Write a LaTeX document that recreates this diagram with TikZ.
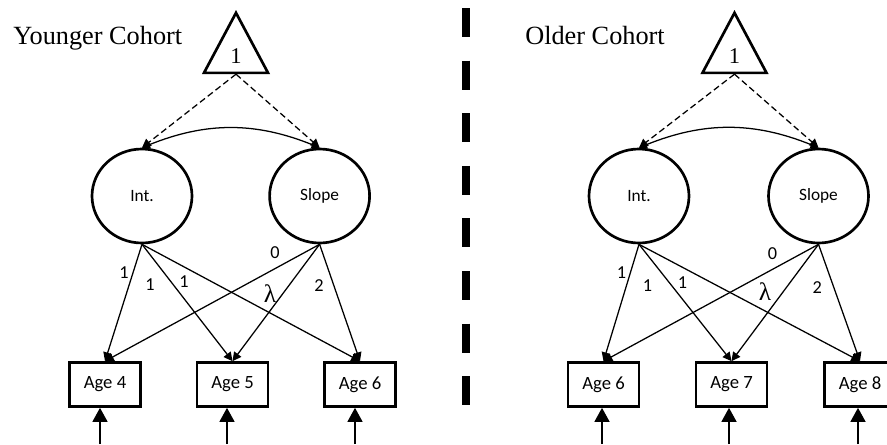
\documentclass[tikz,border=0pt]{standalone}
\usepackage{fontspec}
\setmainfont{Liberation Serif}
\setsansfont{Carlito}
\usetikzlibrary{shapes.geometric,arrows.meta}

\begin{document}
\begin{tikzpicture}[
  title/.style={anchor=base west, inner sep=0pt, font=\fontsize{18.7}{22}\selectfont},
  const/.style={isosceles triangle, isosceles triangle apex angle=56,
    isosceles triangle stretches, shape border rotate=90, draw,
    line width=1.9pt, minimum width=1.6cm, minimum height=1.5cm, inner sep=0pt},
  factor/.style={ellipse, draw, line width=1.9pt, minimum width=2.5cm,
    minimum height=2.35cm, font=\sffamily\fontsize{12.3}{14}\selectfont},
  measure/.style={rectangle, draw, line width=1.9pt, minimum width=1.775cm,
    minimum height=1.1cm, font=\sffamily\fontsize{13.3}{15}\selectfont},
  lbl/.style={inner sep=0pt, font=\sffamily\fontsize{13}{14}\selectfont},
  load/.style={-{Triangle[length=2.2mm,width=2.2mm]}, line width=0.9pt},
  meanpath/.style={load, dash pattern=on 4.5pt off 2.5pt},
  covpath/.style={{Triangle[length=2mm,width=2mm]}-{Triangle[length=2mm,width=2mm]}, line width=0.9pt},
  errarrow/.style={-{Triangle[length=3.5mm,width=3.75mm]}, line width=1pt}
]
  \clip (0.0, 0.0) rectangle (22.175, 11.1);

  % younger cohort
  \node (yTitle) [title] at (0.325, 10.0) {Younger Cohort};
  \node (yOne) [const, anchor=apex] at (5.9, 10.85) {};
  \node (yOneLbl) [font=\fontsize{16}{16}\selectfont] at (5.9, 9.7) {1};

  \node (yInt) [factor] at (3.55, 6.2) {Int.};
  \node (ySlope) [factor] at (7.99, 6.2) {Slope};

  \node (yA4) [measure] at (2.625, 1.4875) {Age 4};
  \node (yA5) [measure] at (5.8125, 1.4875) {Age 5};
  \node (yA6) [measure] at (9.0, 1.4875) {Age 6};

  \coordinate (yE4) at (2.5, 0.0);
  \coordinate (yE5) at (5.675, 0.0);
  \coordinate (yE6) at (8.875, 0.0);

  \draw[meanpath] (yOne.south) -- (yInt.north);
  \draw[meanpath] (yOne.south) -- (ySlope.north);
  \draw[covpath] (yInt.north) to[bend left=22] (ySlope.north);

  \draw[load] (yInt.south) -- (yA4.north);
  \draw[load] (yInt.south) -- (yA5.north);
  \draw[load] (yInt.south) -- (yA6.north);
  \draw[load] (ySlope.south) -- (yA4.north);
  \draw[load] (ySlope.south) -- (yA5.north);
  \draw[load] (ySlope.south) -- (yA6.north);

  \node (yL1) [lbl] at (3.1, 4.275) {1};
  \node (yL2) [lbl] at (3.75, 3.975) {1};
  \node (yL3) [lbl] at (4.6, 4.05) {1};
  \node (yL4) [lbl] at (6.875, 4.78) {0};
  \node (yL5) [inner sep=0pt, font=\fontsize{18}{18}\selectfont] at (6.75, 3.77) {λ};
  \node (yL6) [lbl] at (7.975, 3.96) {2};

  \draw[errarrow] (yE4) -- (yE4 |- yA4.south);
  \draw[errarrow] (yE5) -- (yE5 |- yA5.south);
  \draw[errarrow] (yE6) -- (yE6 |- yA6.south);

  % divider
  \draw[line width=0.2cm, dash pattern=on 0.725cm off 0.59cm] (11.65, 10.9) -- (11.65, 0.975);

  % older cohort
  \node (oTitle) [title] at (13.125, 10.0) {Older Cohort};
  \node (oOne) [const, anchor=apex] at (18.3625, 10.85) {};
  \node (oOneLbl) [font=\fontsize{16}{16}\selectfont] at (18.3625, 9.7) {1};

  \node (oInt) [factor] at (15.975, 6.2) {Int.};
  \node (oSlope) [factor] at (20.4625, 6.2) {Slope};

  \node (oA6) [measure] at (15.0875, 1.4875) {Age 6};
  \node (oA7) [measure] at (18.2875, 1.4875) {Age 7};
  \node (oA8) [measure] at (21.5, 1.4875) {Age 8};

  \coordinate (oE6) at (15.05, 0.0);
  \coordinate (oE7) at (18.225, 0.0);
  \coordinate (oE8) at (21.45, 0.0);

  \draw[meanpath] (oOne.south) -- (oInt.north);
  \draw[meanpath] (oOne.south) -- (oSlope.north);
  \draw[covpath] (oInt.north) to[bend left=22] (oSlope.north);

  \draw[load] (oInt.south) -- (oA6.north);
  \draw[load] (oInt.south) -- (oA7.north);
  \draw[load] (oInt.south) -- (oA8.north);
  \draw[load] (oSlope.south) -- (oA6.north);
  \draw[load] (oSlope.south) -- (oA7.north);
  \draw[load] (oSlope.south) -- (oA8.north);

  \node (oL1) [lbl] at (15.54, 4.275) {1};
  \node (oL2) [lbl] at (16.19, 3.95) {1};
  \node (oL3) [lbl] at (17.06, 4.03) {1};
  \node (oL4) [lbl] at (19.31, 4.75) {0};
  \node (oL5) [inner sep=0pt, font=\fontsize{18}{18}\selectfont] at (19.125, 3.81) {λ};
  \node (oL6) [lbl] at (20.43, 3.9) {2};

  \draw[errarrow] (oE6) -- (oE6 |- oA6.south);
  \draw[errarrow] (oE7) -- (oE7 |- oA7.south);
  \draw[errarrow] (oE8) -- (oE8 |- oA8.south);
\end{tikzpicture}
\end{document}
